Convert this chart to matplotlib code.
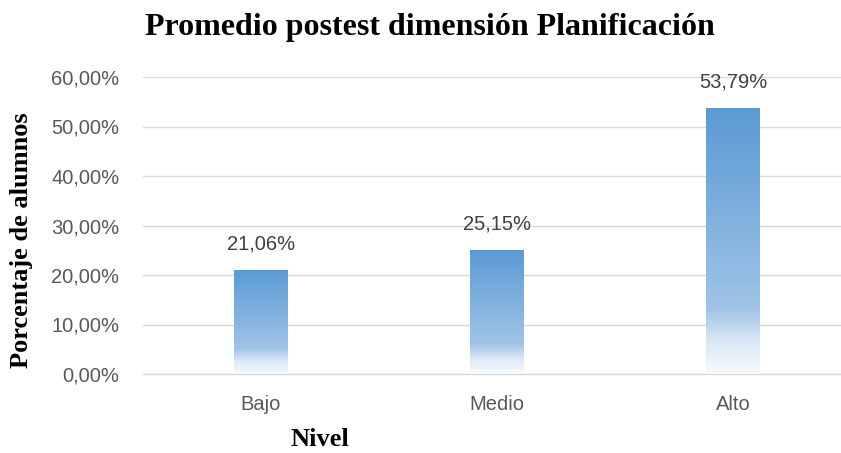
import matplotlib.pyplot as plt
import numpy as np
from matplotlib.colors import LinearSegmentedColormap

niveles = ['Bajo', 'Medio', 'Alto']
porcentajes = [21.06, 25.15, 53.79]
etiquetas = ['21,06%', '25,15%', '53,79%']
yticks = [0, 10, 20, 30, 40, 50, 60]
ytick_labels = ['0,00%', '10,00%', '20,00%', '30,00%', '40,00%', '50,00%', '60,00%']

fig = plt.figure(figsize=(8.41, 4.53), dpi=100)
ax = fig.add_axes([143 / 841, 79 / 453, 1 - 143 / 841, 297 / 453])

# gradient: top blue -> lighter blue -> white at the bottom
cmap = LinearSegmentedColormap.from_list(
    'grad', [(0.0, '#F6FAFD'), (0.12, '#DCE9F6'), (0.24, '#A0C4E7'), (1.0, '#5A9AD4')])

x = np.arange(len(niveles))
bars = ax.bar(x, porcentajes, width=0.225, color='none', zorder=3)
grad = np.linspace(0, 1, 256).reshape(-1, 1)
for b in bars:
    x0, y0 = b.get_x(), b.get_y()
    im = ax.imshow(grad, cmap=cmap, origin='lower', aspect='auto',
                   extent=[x0, x0 + b.get_width(), y0, y0 + b.get_height()], zorder=3)
    im.set_clip_path(b)

for xi, v, t in zip(x, porcentajes, etiquetas):
    ax.text(xi, v + 3.3, t, ha='center', va='bottom', fontsize=14.5,
            color='#404040', family='Liberation Sans')

ax.set_xlim(-0.5, 2.5 - 10 / 236)
ax.set_ylim(0, 60)
ax.set_yticks(yticks)
ax.set_yticklabels(ytick_labels)
ax.set_xticks(x)
ax.set_xticklabels(niveles)
for lab in ax.get_xticklabels() + ax.get_yticklabels():
    lab.set_family('Liberation Sans')
    lab.set_fontsize(14.5)
    lab.set_color('#595959')
ax.tick_params(axis='both', length=0)
ax.tick_params(axis='y', pad=17)
ax.tick_params(axis='x', pad=15)
ax.grid(axis='y', color='#D9D9D9', linewidth=1, zorder=0)
for s in ['top', 'right', 'left']:
    ax.spines[s].set_visible(False)
ax.spines['bottom'].set_color('#D9D9D9')
ax.spines['bottom'].set_linewidth(1)

fig.text(430 / 841, 1 - 27 / 453, 'Promedio postest dimensión Planificación',
         ha='center', va='center', fontsize=23, fontweight='bold', family='Liberation Serif')
fig.text(22 / 841, 1 - 240 / 453, 'Porcentaje de alumnos', rotation=90,
         ha='center', va='center', fontsize=19, fontweight='bold', family='Liberation Serif')
fig.text(320 / 841, 1 - 440 / 453, 'Nivel', ha='center', va='center',
         fontsize=19, fontweight='bold', family='Liberation Serif')

fig.savefig('out.png', dpi=100)
